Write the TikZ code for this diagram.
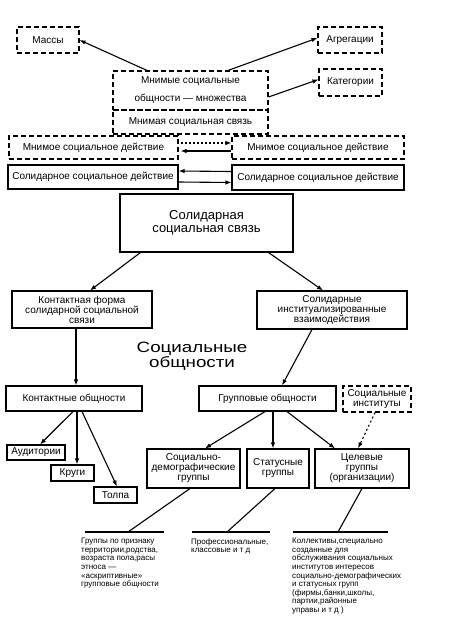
\documentclass[tikz,border=0pt]{standalone}
\usepackage{fontspec}
\setmainfont{Liberation Sans}
\newfontfamily\widefont[FakeStretch=1.25]{Liberation Sans}
\usetikzlibrary{arrows.meta}
\tikzset{
  box/.style={draw, line width=1.1pt, inner sep=0pt, align=center, font=\fontsize{10}{10}\selectfont},
  dbox/.style={box, dash pattern=on 5pt off 3pt},
  seta/.style={-{Latex[length=6pt,width=4.5pt]}, line width=1.1pt},
  nota/.style={anchor=north west, inner sep=0pt, align=left, font=\fontsize{8}{8.6}\selectfont}
}

\begin{document}
\begin{tikzpicture}[x=1pt, y=-1pt]
  \useasboundingbox (0,0) rectangle (453,634);
  % mnimye obshchnosti
  \node[dbox, minimum width=62, minimum height=26] (massy) at (48,40) {Массы};
  \node[dbox, minimum width=64, minimum height=26] (agreg) at (350,40) {Агрегации};
  \node[dbox, minimum width=63, minimum height=27] (kateg) at (350.5,82.5) {Категории};
  \node[dbox, minimum width=155, minimum height=39] (mnozh) at (190.5,90.5)
    {Мнимые социальные\\[8pt]общности — множества};
  \node[dbox, minimum width=155, minimum height=24] (msvyaz) at (190.5,122) {Мнимая социальная связь};
  \draw[seta] ([xshift=-43.5]mnozh.north) -- (massy.east);
  \draw[seta] ([xshift=37.5]mnozh.north) -- ([yshift=2]agreg.west);
  \draw[seta] ([yshift=-6.5]mnozh.east) -- ([yshift=3]kateg.west);
  % dejstviya
  \node[dbox, minimum width=169, minimum height=23] (mdeistL) at (93.5,147.5) {Мнимое социальное действие};
  \node[dbox, minimum width=172, minimum height=23] (mdeistR) at (318,147.5) {Мнимое социальное действие};
  \node[box, minimum width=170, minimum height=24] (sdeistL) at (93,177) {Солидарное социальное действие};
  \node[box, minimum width=172, minimum height=25] (sdeistR) at (318,177.5) {Солидарное социальное действие};
  \draw[seta, dash pattern=on 2pt off 2pt] ([xshift=2, yshift=4.5]mdeistL.east) -- ([yshift=4.5]mdeistR.west);
  \draw[seta] ([yshift=-3.5]mdeistR.west) -- ([xshift=2, yshift=-3.5]mdeistL.east);
  \draw[seta] ([yshift=6]sdeistR.west) -- ([yshift=6]sdeistL.east);
  \draw[seta] ([yshift=-5]sdeistL.east) -- ([yshift=-5]sdeistR.west);
  % solidarnaya svyaz
  \node[box, minimum width=173, minimum height=58, font=\fontsize{13}{13}\selectfont] (ssvyaz) at (206.5,223)
    {Солидарная\\социальная связь};
  \node[box, minimum width=140, minimum height=37] (kform) at (82,309.5)
    {Контактная форма\\солидарной социальной\\связи};
  \node[box, minimum width=150, minimum height=38] (sinst) at (332,310)
    {Солидарные\\институализированные\\взаимодействия};
  \draw[seta] ([xshift=-66]ssvyaz.south) -- ([xshift=8]kform.north);
  \draw[seta] ([xshift=62]ssvyaz.south) -- ([xshift=-9]sinst.north);
  \node[align=center, inner sep=0pt, font=\widefont\fontsize{15}{12}\selectfont] (titul) at (192,356)
    {Социальные\\общности};
  % obshchnosti
  \node[box, minimum width=136, minimum height=25] (kobsh) at (74,398.5) {Контактные общности};
  \node[box, minimum width=137, minimum height=25] (gobsh) at (267.5,398.5) {Групповые общности};
  \node[dbox, minimum width=68, minimum height=26] (sinstit) at (377,399) {Социальные\\институты};
  \draw[seta] ([xshift=-6]kform.south) -- ([xshift=2]kobsh.north);
  \draw[seta] ([xshift=-20]sinst.south) -- ([xshift=14.5]gobsh.north);
  \node[box, minimum width=58, minimum height=15] (audit) at (36,452.5) {Аудитории};
  \node[box, minimum width=43, minimum height=16] (krugi) at (72.5,473) {Круги};
  \node[box, minimum width=43, minimum height=16] (tolpa) at (115.5,495) {Толпа};
  \draw[seta] ([xshift=-1]kobsh.south) -- ([xshift=4]audit.north);
  \draw[seta] ([xshift=3]kobsh.south) -- ([xshift=4.5]krugi.north);
  \draw[seta] ([xshift=8]kobsh.south) -- ([xshift=1.5]tolpa.north);
  % gruppy
  \node[box, minimum width=93, minimum height=39] (sdem) at (193.5,468.5) {Социально-\\демографические\\группы};
  \node[box, minimum width=62, minimum height=39] (stat) at (278,468.5) {Статусные\\группы};
  \node[box, minimum width=94, minimum height=39] (tsel) at (362,468.5) {Целевые\\группы\\(организации)};
  \draw[seta] ([xshift=-2.5]gobsh.south) -- ([xshift=11.5]sdem.north);
  \draw[seta] ([xshift=5.5]gobsh.south) -- ([xshift=-5]stat.north);
  \draw[seta] ([xshift=19.5]gobsh.south) -- ([xshift=-27]tsel.north);
  \draw[seta, dash pattern=on 2pt off 2.5pt] ([xshift=-2]sinstit.south) -- ([xshift=-4]tsel.north);
  % poyasneniya
  \coordinate (l1) at (128,532);
  \coordinate (l2) at (227,532);
  \coordinate (l3) at (338,532);
  \draw[line width=1.1pt] (85,532) -- (164,532);
  \draw[line width=1.1pt] (192,532) -- (270,532);
  \draw[line width=1.1pt] (293,532) -- (388,532);
  \draw[line width=1.1pt] ([xshift=-3.5]sdem.south) -- (l1);
  \draw[line width=1.1pt] ([xshift=-3]stat.south) -- (l2);
  \draw[line width=1.1pt] (tsel.south) -- (l3);
  \node[nota] (p1) at (81,538) {Группы по признаку\\территории,родства,\\возраста пола,расы\\этноса —\\«аскриптивные»\\групповые общности};
  \node[nota] (p2) at (191,538) {Профессиональные,\\классовые и т д};
  \node[nota] (p3) at (292,538) {Коллективы,специально\\созданные для\\обслуживания социальных\\институтов интересов\\социально-демографических\\и статусных групп\\(фирмы,банки,школы,\\партии,районные\\управы и т д )};
\end{tikzpicture}
\end{document}
